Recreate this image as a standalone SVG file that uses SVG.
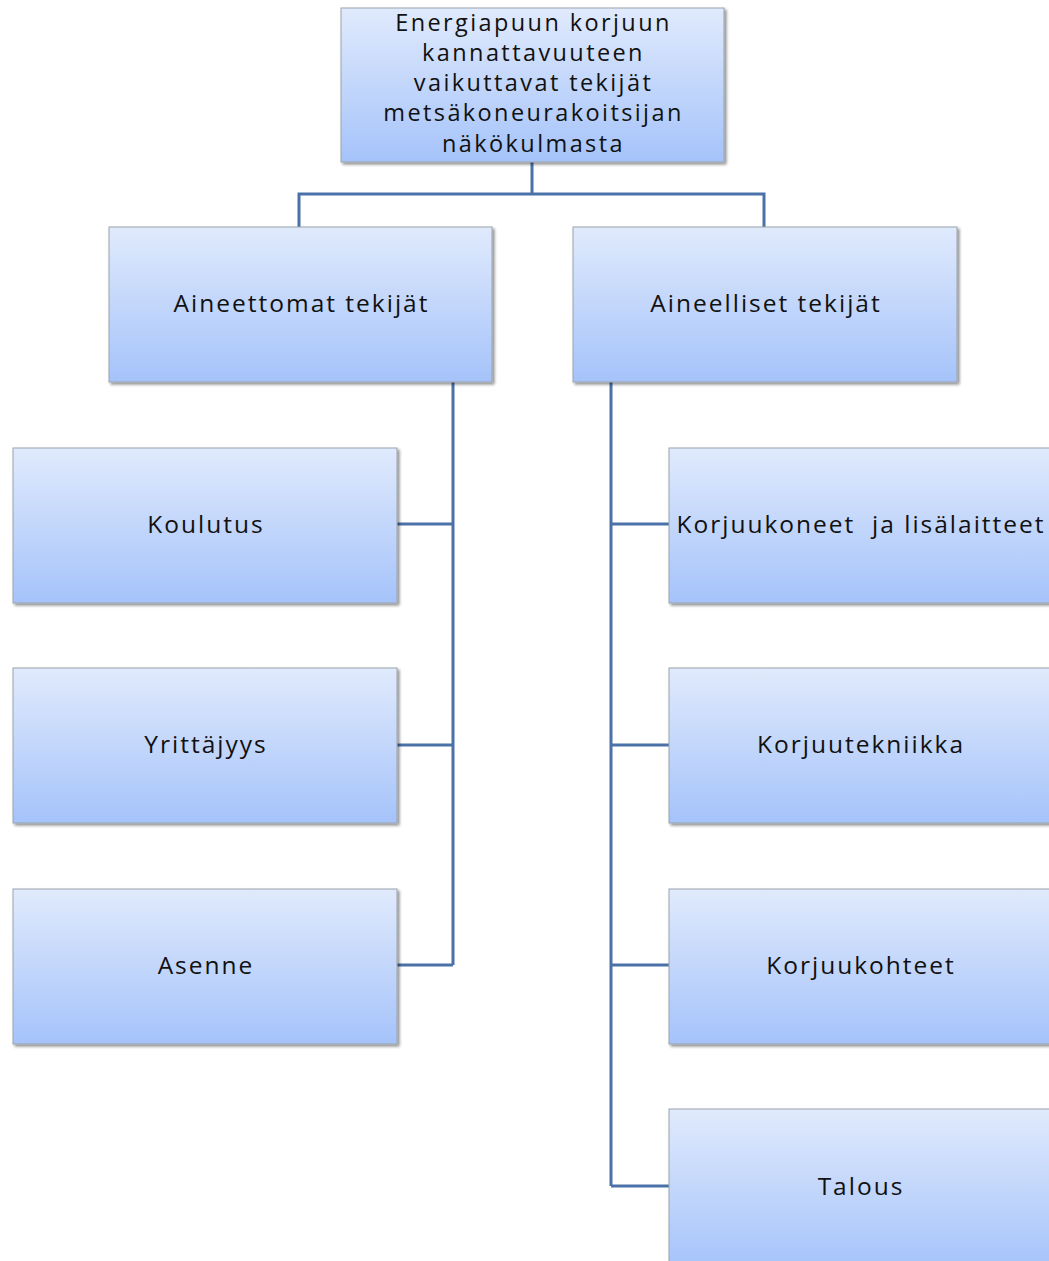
<svg xmlns="http://www.w3.org/2000/svg" width="1049" height="1261" viewBox="0 0 1049 1261">
<defs>
<linearGradient id="g" x1="0" y1="0" x2="0" y2="1">
<stop offset="0" stop-color="#e0eafc"/>
<stop offset="1" stop-color="#a5c3fa"/>
</linearGradient>
<filter id="sh" x="-5%" y="-5%" width="115%" height="115%">
<feGaussianBlur in="SourceAlpha" stdDeviation="1.5"/>
<feOffset dx="1.5" dy="2" result="b"/>
<feComponentTransfer><feFuncA type="linear" slope="0.45"/></feComponentTransfer>
<feMerge><feMergeNode/><feMergeNode in="SourceGraphic"/></feMerge>
</filter>
</defs>
<style>
.box{fill:url(#g);stroke:#9aa3ad;stroke-width:1;filter:url(#sh)}
.t{font-family:"Open Sans","Noto Sans",sans-serif;font-size:24.5px;letter-spacing:2px;fill:#111;text-anchor:middle;white-space:pre}
.r{font-size:23.5px;letter-spacing:2.4px}
.c{fill:none;stroke:#4a72a8;stroke-width:3}
</style>
<g id="connectors">
<path class="c" d="M532 162V194M299 227V194H764V227"/>
<path class="c" d="M453 382V965M397 524H453M397 745H453M397 965H453"/>
<path class="c" d="M611 382V1186M611 524H669M611 745H669M611 965H669M611 1186H669"/>
</g>
<g id="root">
<rect class="box" x="341" y="8" width="383" height="154"/>
<text class="t r"><tspan x="533.5" y="31">Energiapuun korjuun</tspan><tspan x="533.5" y="61">kannattavuuteen</tspan><tspan x="533.5" y="91">vaikuttavat tekijät</tspan><tspan x="533.5" y="121">metsäkoneurakoitsijan</tspan><tspan x="533.5" y="152">näkökulmasta</tspan></text>
</g>
<g id="aineettomat">
<rect class="box" x="109" y="227" width="383" height="155"/>
<text class="t" x="301.5" y="312">Aineettomat tekijät</text>
</g>
<g id="aineelliset">
<rect class="box" x="573" y="227" width="384" height="155"/>
<text class="t" x="766" y="312">Aineelliset tekijät</text>
</g>
<g id="koulutus">
<rect class="box" x="13" y="448" width="384" height="155"/>
<text class="t" x="206" y="533">Koulutus</text>
</g>
<g id="yrittajyys">
<rect class="box" x="13" y="668" width="384" height="155"/>
<text class="t" x="206" y="753">Yrittäjyys</text>
</g>
<g id="asenne">
<rect class="box" x="13" y="889" width="384" height="155"/>
<text class="t" x="206" y="974">Asenne</text>
</g>
<g id="korjuukoneet">
<rect class="box" x="669" y="448" width="384" height="155"/>
<text class="t" x="861" y="533">Korjuukoneet  ja lisälaitteet</text>
</g>
<g id="korjuutekniikka">
<rect class="box" x="669" y="668" width="384" height="155"/>
<text class="t" x="861" y="753">Korjuutekniikka</text>
</g>
<g id="korjuukohteet">
<rect class="box" x="669" y="889" width="384" height="155"/>
<text class="t" x="861" y="974">Korjuukohteet</text>
</g>
<g id="talous">
<rect class="box" x="669" y="1109" width="384" height="160"/>
<text class="t" x="861" y="1195">Talous</text>
</g>
</svg>
